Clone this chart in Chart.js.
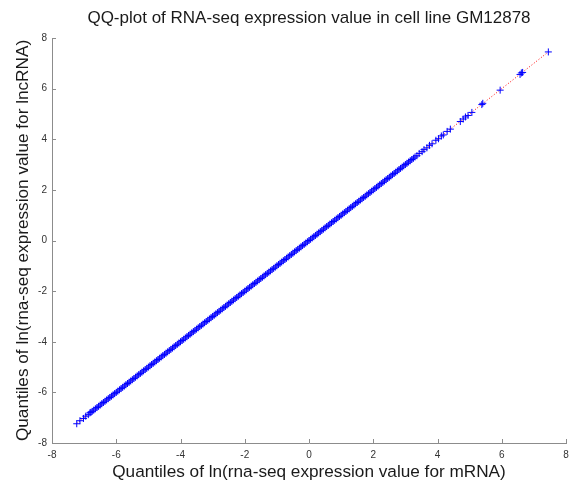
<!DOCTYPE html>
<html>
<head>
<meta charset="utf-8">
<script src="https://cdn.jsdelivr.net/npm/chart.js@4.4.1/dist/chart.umd.min.js"></script>
<style>
html,body{margin:0;padding:0;background:#fff;}
#wrap{width:579px;height:487px;position:relative;}
</style>
</head>
<body>
<div id="wrap"><canvas id="c"></canvas></div>
<script>
// Title and axis labels
const chartTitle = 'QQ-plot of RNA-seq expression value in cell line GM12878';
const xTitle = 'Quantiles of ln(rna-seq expression value for mRNA)';
const yTitle = 'Quantiles of ln(rna-seq expression value for lncRNA)';
const tickValues = [-8, -6, -4, -2, 0, 2, 4, 6, 8];

// Sparse low tail (mRNA quantile, lncRNA quantile)
const lowTailX = [-7.23, -7.13, -7.02, -6.95, -6.87, -6.82, -6.79];
const lowTailY = [-7.24, -7.12, -7.03, -6.94, -6.88, -6.81, -6.79];

// Dense body of the QQ-plot (both quantiles read as equal along the diagonal)
const denseQuantiles = [
-6.75,-6.7,-6.65,-6.6,-6.55,-6.5,-6.45,-6.4,-6.35,-6.3,-6.25,-6.2,-6.15,-6.1,-6.05,-6,
-5.95,-5.9,-5.85,-5.8,-5.75,-5.7,-5.65,-5.6,-5.55,-5.5,-5.45,-5.4,-5.35,-5.3,-5.25,-5.2,-5.15,-5.1,-5.05,-5,
-4.95,-4.9,-4.85,-4.8,-4.75,-4.7,-4.65,-4.6,-4.55,-4.5,-4.45,-4.4,-4.35,-4.3,-4.25,-4.2,-4.15,-4.1,-4.05,-4,
-3.95,-3.9,-3.85,-3.8,-3.75,-3.7,-3.65,-3.6,-3.55,-3.5,-3.45,-3.4,-3.35,-3.3,-3.25,-3.2,-3.15,-3.1,-3.05,-3,
-2.95,-2.9,-2.85,-2.8,-2.75,-2.7,-2.65,-2.6,-2.55,-2.5,-2.45,-2.4,-2.35,-2.3,-2.25,-2.2,-2.15,-2.1,-2.05,-2,
-1.95,-1.9,-1.85,-1.8,-1.75,-1.7,-1.65,-1.6,-1.55,-1.5,-1.45,-1.4,-1.35,-1.3,-1.25,-1.2,-1.15,-1.1,-1.05,-1,
-0.95,-0.9,-0.85,-0.8,-0.75,-0.7,-0.65,-0.6,-0.55,-0.5,-0.45,-0.4,-0.35,-0.3,-0.25,-0.2,-0.15,-0.1,-0.05,0,
0.05,0.1,0.15,0.2,0.25,0.3,0.35,0.4,0.45,0.5,0.55,0.6,0.65,0.7,0.75,0.8,0.85,0.9,0.95,1,
1.05,1.1,1.15,1.2,1.25,1.3,1.35,1.4,1.45,1.5,1.55,1.6,1.65,1.7,1.75,1.8,1.85,1.9,1.95,2,
2.05,2.1,2.15,2.2,2.25,2.3,2.35,2.4,2.45,2.5,2.55,2.6,2.65,2.7,2.75,2.8,2.85,2.9,2.95,3,
3.05,3.1,3.15,3.2,3.25,3.3
];

// Sparse high tail (mRNA quantile, lncRNA quantile)
const highTailX = [3.36, 3.43, 3.52, 3.58, 3.67, 3.75, 3.83, 3.95, 4.03, 4.12, 4.18, 4.3, 4.4, 4.71, 4.8, 4.87, 4.95, 5.07, 5.38, 5.41, 5.95, 6.57, 6.61, 6.65, 7.45];
const highTailY = [3.35, 3.44, 3.51, 3.59, 3.66, 3.76, 3.82, 3.96, 4.02, 4.13, 4.17, 4.31, 4.4, 4.7, 4.8, 4.88, 4.94, 5.06, 5.37, 5.42, 5.94, 6.56, 6.62, 6.64, 7.45];

// Reference line endpoints
const fitLineX = [-7.23, 7.45];
const fitLineY = [-7.23, 7.45];

const FONT = '"Liberation Sans", Arial, Helvetica, sans-serif';

const points = [];
lowTailX.forEach((v, i) => points.push({x: v, y: lowTailY[i]}));
denseQuantiles.forEach(v => points.push({x: v, y: v}));
highTailX.forEach((v, i) => points.push({x: v, y: highTailY[i]}));
const fitLine = fitLineX.map((v, i) => ({x: v, y: fitLineY[i]}));

const innerTicks = {
  id: 'innerTicks',
  afterDraw(chart) {
    const {ctx, chartArea: a, scales: {x, y}} = chart;
    ctx.save();
    ctx.strokeStyle = '#8c8c8c';
    ctx.lineWidth = 1;
    ctx.beginPath();
    x.ticks.forEach(t => {
      const p = Math.round(x.getPixelForValue(t.value)) + 0.5;
      ctx.moveTo(p, a.bottom);
      ctx.lineTo(p, a.bottom - 4);
    });
    y.ticks.forEach(t => {
      const p = Math.round(y.getPixelForValue(t.value)) + 0.5;
      ctx.moveTo(a.left, p);
      ctx.lineTo(a.left + 4, p);
    });
    ctx.stroke();
    ctx.restore();
  }
};

new Chart(document.getElementById('c'), {
  type: 'scatter',
  data: {
    datasets: [
      {
        data: points,
        pointStyle: 'cross',
        pointRadius: 3.5,
        pointBorderWidth: 1,
        borderColor: '#0000ff',
        backgroundColor: '#0000ff',
        showLine: false
      },
      {
        type: 'line',
        data: fitLine,
        borderColor: '#ff0000',
        borderWidth: 1,
        borderDash: [1, 2],
        pointRadius: 0,
        fill: false
      }
    ]
  },
  options: {
    animation: false,
    responsive: true,
    maintainAspectRatio: false,
    layout: {padding: {left: 0, right: 13, top: 0, bottom: 0}},
    plugins: {
      legend: {display: false},
      tooltip: {enabled: false},
      title: {
        display: true,
        text: chartTitle,
        fullSize: false,
        color: '#1a1a1a',
        font: {family: FONT, size: 17, weight: 'normal'},
        padding: {top: 8, bottom: 9.6}
      }
    },
    scales: {
      x: {
        type: 'linear',
        min: -8, max: 8,
        afterBuildTicks(s) { s.ticks = tickValues.map(v => ({value: v})); },
        ticks: {color: '#333', font: {family: FONT, size: 10}, padding: 6, maxRotation: 0},
        grid: {display: false, drawTicks: false},
        border: {display: true, color: '#8c8c8c', width: 1},
        title: {display: true, text: xTitle, color: '#1a1a1a', font: {family: FONT, size: 17.2}, padding: {top: 0, bottom: 4}},
        afterFit(s) { s.height = 44; }
      },
      y: {
        type: 'linear',
        min: -8, max: 8,
        afterBuildTicks(s) { s.ticks = tickValues.map(v => ({value: v})); },
        ticks: {color: '#333', font: {family: FONT, size: 10}, padding: 5},
        grid: {display: false, drawTicks: false},
        border: {display: true, color: '#8c8c8c', width: 1},
        title: {display: true, text: yTitle, color: '#1a1a1a', font: {family: FONT, size: 17.2}, padding: {top: 12.5, bottom: 0}},
        afterFit(s) { s.width = 52; }
      }
    }
  },
  plugins: [innerTicks]
});
</script>
</body>
</html>
